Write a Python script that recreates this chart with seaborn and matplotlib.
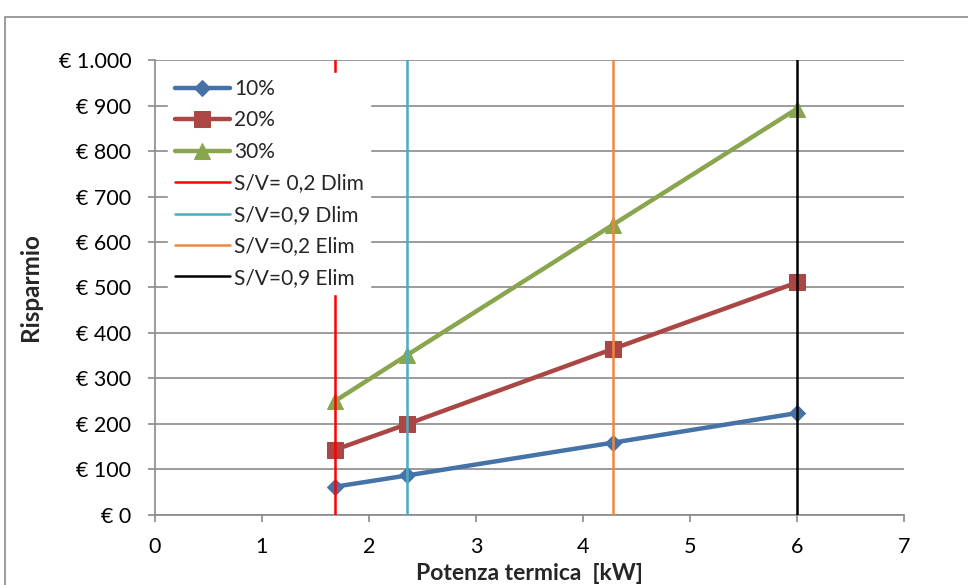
import matplotlib
matplotlib.use("Agg")
import matplotlib.pyplot as plt
from matplotlib.patches import Rectangle
from matplotlib.ticker import FuncFormatter
import seaborn as sns
import pandas as pd

# Potenza termica [kW] at each surface/volume & limit case
potenza = [1.68, 2.36, 4.28, 6.0]
risparmio_10 = [62, 87, 159, 224]
risparmio_20 = [143, 200, 365, 511]
risparmio_30 = [250, 352, 638, 893]
series_labels = ["10%", "20%", "30%"]

# Reference thresholds drawn as vertical lines
soglie_x = [1.68, 2.36, 4.28, 6.0]
soglie_labels = ["S/V= 0,2 Dlim", "S/V=0,9 Dlim", "S/V=0,2 Elim", "S/V=0,9 Elim"]

x_ticks = [0, 1, 2, 3, 4, 5, 6, 7]
y_ticks = [0, 100, 200, 300, 400, 500, 600, 700, 800, 900, 1000]

sns.set_theme(style="white")
plt.rcParams["font.family"] = ["Lato", "DejaVu Sans"]

df = pd.DataFrame({
    "Potenza": potenza * 3,
    "Risparmio": risparmio_10 + risparmio_20 + risparmio_30,
    "Serie": [s for s in series_labels for _ in potenza],
})

fig = plt.figure(figsize=(9.68, 5.85), dpi=100)
ax = fig.add_axes([0.160, 0.1197, 0.774, 0.7777])

# outer chart border
fig.patches.append(Rectangle((5 / 968, -0.05), 1.1, (585 - 17) / 585 + 0.05,
                             transform=fig.transFigure, fill=False,
                             edgecolor="#8c8c8c", linewidth=1.2, zorder=0))

series_colors = ["#4572A7", "#AA4643", "#89A54E"]
series_markers = ["D", "s", "^"]
series_msize = [8, 11, 11]
for lab, col, mk, ms in zip(series_labels, series_colors, series_markers, series_msize):
    sub = df[df["Serie"] == lab]
    sns.lineplot(data=sub, x="Potenza", y="Risparmio", ax=ax, color=col,
                 marker=mk, markersize=ms, markeredgecolor=col, linewidth=3.2,
                 label=lab, zorder=3)

line_colors = ["#FF0000", "#4BACC6", "#F0883E", "#000000"]
for xv, lab, col in zip(soglie_x, soglie_labels, line_colors):
    ax.axvline(xv, color=col, linewidth=1.8, label=lab, zorder=4)

ax.set_xlim(0, 7)
ax.set_ylim(0, 1000)
ax.set_xticks(x_ticks)
ax.set_yticks(y_ticks)
ax.yaxis.set_major_formatter(
    FuncFormatter(lambda v, p: "€ " + f"{int(v):,}".replace(",", ".")))

ax.grid(axis="y", color="#8a8a8a", linewidth=1.2)
ax.grid(axis="x", visible=False)
ax.set_axisbelow(True)
for s in ["top", "right"]:
    ax.spines[s].set_visible(False)
for s in ["left", "bottom"]:
    ax.spines[s].set_color("#8a8a8a")
    ax.spines[s].set_linewidth(1.2)
ax.tick_params(axis="both", which="major", direction="out", length=5,
               width=1.2, color="#8a8a8a", labelsize=15.5, labelcolor="black",
               bottom=True, left=True)
ax.tick_params(axis="x", pad=11)
ax.tick_params(axis="y", pad=12)

ax.set_xlabel("Potenza termica  [kW]", fontsize=16.5, fontweight="bold",
              va="center")
ax.xaxis.set_label_coords(0.5, -0.128)
ax.set_ylabel("Risparmio", fontsize=17.5, fontweight="bold", va="center")
ax.yaxis.set_label_coords(-0.166, 0.5)

leg = ax.legend(loc="upper left", bbox_to_anchor=(0.004, 0.995), fontsize=15,
                frameon=True, framealpha=1.0, edgecolor="white",
                facecolor="white", handlelength=2.65, labelspacing=0.55,
                borderpad=0.3, handletextpad=0.2, fancybox=False)
leg.set_zorder(10)

fig.savefig("out.png", dpi=100, facecolor="white")
